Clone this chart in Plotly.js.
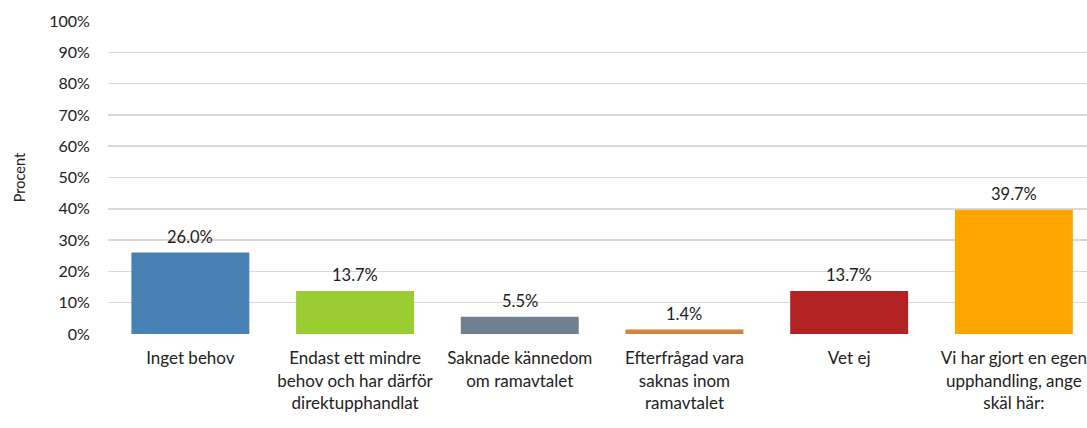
<!DOCTYPE html>
<html><head><meta charset="utf-8">
<script src="https://cdn.plot.ly/plotly-3.0.1.min.js"></script>
<style>html,body{margin:0;padding:0;background:#fff}#chart{width:1087px;height:428px}</style>
</head><body><div id="chart"></div>
<script>
const categories = [
  "Inget behov",
  "Endast ett mindre<br>behov och har därför<br>direktupphandlat",
  "Saknade kännedom<br>om ramavtalet",
  "Efterfrågad vara<br>saknas inom<br>ramavtalet",
  "Vet ej",
  "Vi har gjort en egen<br>upphandling, ange<br>skäl här:"
];
const values = [26.0, 13.7, 5.5, 1.4, 13.7, 39.7];
const valueLabels = ["26.0%", "13.7%", "5.5%", "1.4%", "13.7%", "39.7%"];
const colors = ["#4682B4", "#9ACD32", "#708090", "#CD853F", "#B22222", "#FFA500"];
const yTickVals = [0,10,20,30,40,50,60,70,80,90,100];
const yTickText = ["0%","10%","20%","30%","40%","50%","60%","70%","80%","90%","100%"];

const FONT = "Lato, 'Open Sans', sans-serif";
const idx = categories.map((c,i)=>i);

const trace = {
  type: "bar",
  x: idx,
  y: values,
  width: 0.716,
  marker: {color: colors},
  hoverinfo: "none"
};

const annotations = idx.map(i => ({
  x: i, y: values[i], xref: "x", yref: "y",
  text: valueLabels[i], showarrow: false,
  yanchor: "bottom", yshift: 4,
  font: {family: FONT, size: 16.5, color: "#222"}
}));

const layout = {
  width: 1087, height: 428,
  margin: {l: 108, r: 0, t: 21, b: 94, pad: 0},
  paper_bgcolor: "#fff", plot_bgcolor: "#fff",
  showlegend: false,
  font: {family: FONT, size: 15, color: "#222"},
  xaxis: {
    range: [-0.5, 5.444],
    tickmode: "array", tickvals: idx, ticktext: categories,
    showgrid: false, zeroline: false, showline: false,
    ticks: "outside", ticklen: 9, tickcolor: "rgba(0,0,0,0)",
    tickfont: {family: FONT, size: 17, color: "#222"},
    fixedrange: true
  },
  yaxis: {
    range: [0, 100],
    tickmode: "array", tickvals: yTickVals, ticktext: yTickText,
    showgrid: true, gridcolor: "#d9d9d9", gridwidth: 1.5,
    zeroline: false, showline: false,
    ticks: "outside", ticklen: 14, tickcolor: "rgba(0,0,0,0)",
    tickfont: {family: FONT, size: 16, color: "#222"},
    title: {text: "Procent", font: {family: FONT, size: 14.5, color: "#222"}, standoff: 20},
    fixedrange: true
  },
  annotations: annotations
};

Plotly.newPlot("chart", [trace], layout, {displayModeBar: false, staticPlot: true});
</script></body></html>
